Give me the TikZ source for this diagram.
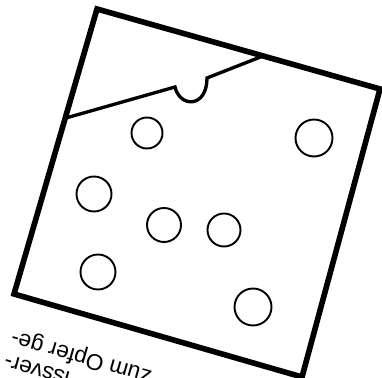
\documentclass[tikz,border=0pt]{standalone}
\usepackage{fontspec}
\setmainfont{Liberation Sans}
\usepackage{tikz}
\usetikzlibrary{calc,positioning}
\tikzset{frame/.style={draw=black,line width=3.2pt}}
\tikzset{cutline/.style={draw=black,line width=1.9pt}}
\tikzset{hole/.style={circle,draw=black,line width=1.1pt,inner sep=0pt}}

\begin{document}
\begin{tikzpicture}[x=0.02cm,y=-0.02cm]
\useasboundingbox (0,0) rectangle (382,378);
\coordinate (tl) at (97,9);
\coordinate (tr) at (380,89);
\coordinate (br) at (302,377);
\coordinate (bl) at (14,294);
\draw [frame] (tl) -- (tr) -- (br) -- (bl) -- cycle;

% dividing line with the notch
\coordinate (c1) at (66,118);
\coordinate (c2) at (175,87);
\coordinate (c3) at (207,78);
\coordinate (c4) at (263,56);
\draw [cutline] (c1) -- (c2) .. controls (180,108) and (207,108) .. (c3) -- (c4);

\node [hole,minimum size=15.5*0.02cm*2] at (147,133) (h1) {};
\node [hole,minimum size=18.5*0.02cm*2] at (314,138) (h2) {};
\node [hole,minimum size=17.5*0.02cm*2] at (94,194) (h3) {};
\node [hole,minimum size=17*0.02cm*2] at (164,225) (h4) {};
\node [hole,minimum size=16.5*0.02cm*2] at (224,230) (h5) {};
\node [hole,minimum size=17.5*0.02cm*2] at (98,272) (h6) {};
\node [hole,minimum size=18.5*0.02cm*2] at (253,307) (h7) {};

\node [rotate=164,anchor=base east,inner sep=0pt,align=right,
	font=\fontsize{12.9}{13.8}\selectfont] at (13,331) (txt)
	{issver-\\zum Opfer ge-};
\end{tikzpicture}
\end{document}
